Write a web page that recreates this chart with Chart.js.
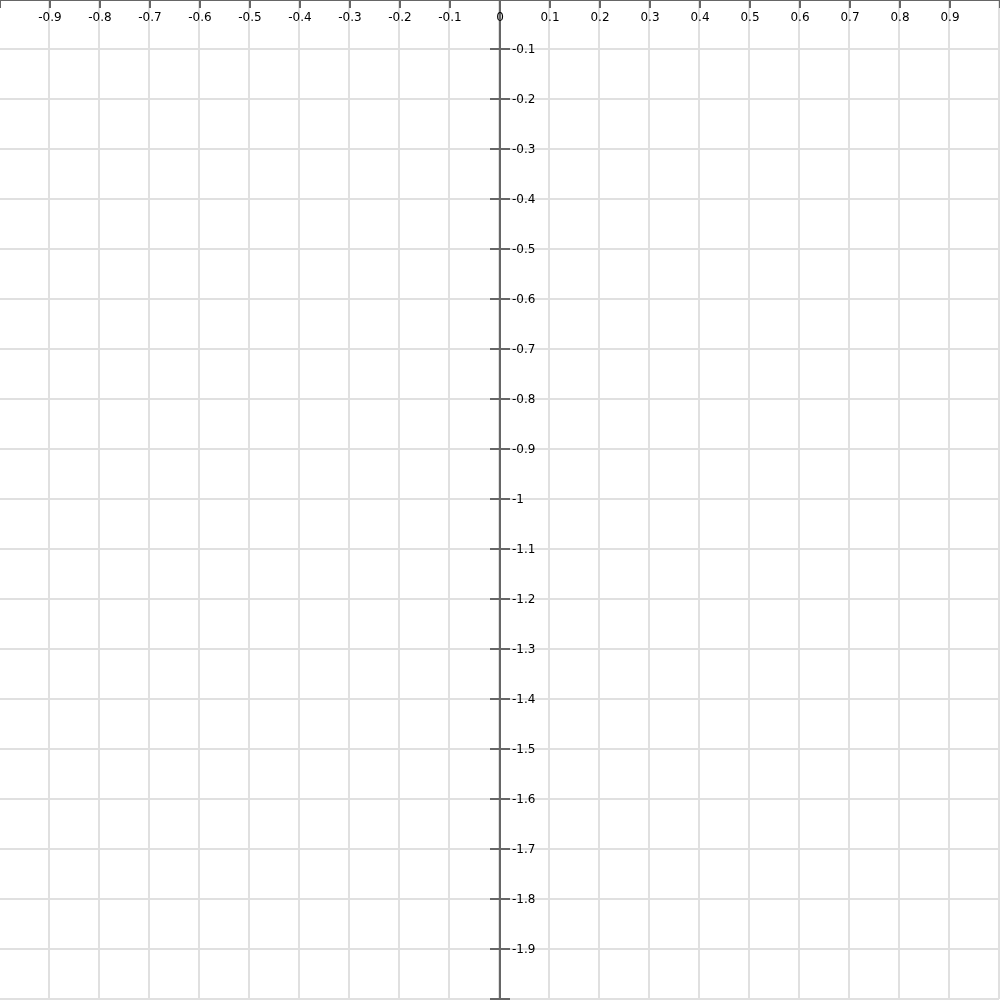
<!DOCTYPE html>
<html>
<head>
<meta charset="utf-8">
<script src="https://cdn.jsdelivr.net/npm/chart.js@4.4.1/dist/chart.umd.min.js"></script>
<style>
html,body{margin:0;padding:0;background:#fff;overflow:hidden;width:1000px;height:1000px;}
canvas{display:block;margin-left:-1px;margin-top:-1px;}
</style>
</head>
<body>
<canvas id="c" width="1001" height="1001"></canvas>
<script>
const xRange = [-1, 1];
const yRange = [-2, 0];
const xTickValues = [-1, -0.9, -0.8, -0.7, -0.6, -0.5, -0.4, -0.3, -0.2, -0.1, 0, 0.1, 0.2, 0.3, 0.4, 0.5, 0.6, 0.7, 0.8, 0.9, 1];
const xTickLabels = ["", "-0.9", "-0.8", "-0.7", "-0.6", "-0.5", "-0.4", "-0.3", "-0.2", "-0.1", "0", "0.1", "0.2", "0.3", "0.4", "0.5", "0.6", "0.7", "0.8", "0.9", ""];
const yTickValues = [0, -0.1, -0.2, -0.3, -0.4, -0.5, -0.6, -0.7, -0.8, -0.9, -1, -1.1, -1.2, -1.3, -1.4, -1.5, -1.6, -1.7, -1.8, -1.9, -2];
const yTickLabels = ["", "-0.1", "-0.2", "-0.3", "-0.4", "-0.5", "-0.6", "-0.7", "-0.8", "-0.9", "-1", "-1.1", "-1.2", "-1.3", "-1.4", "-1.5", "-1.6", "-1.7", "-1.8", "-1.9", ""];
const points = [];

const axisPlugin = {
  id: 'centerAxes',
  afterDraw(chart) {
    const ctx = chart.ctx;
    const xs = chart.scales.x, ys = chart.scales.y;
    const W = chart.width, H = chart.height;
    const x0 = Math.round(xs.getPixelForValue(0)) + 1;
    const y0 = Math.round(ys.getPixelForValue(0)) + 1;
    ctx.save();
    ctx.strokeStyle = '#666666';
    ctx.lineWidth = 2;
    ctx.beginPath();
    ctx.moveTo(0, y0);
    ctx.lineTo(W, y0);
    ctx.stroke();
    ctx.beginPath();
    ctx.moveTo(x0, 0);
    ctx.lineTo(x0, H);
    ctx.stroke();
    ctx.font = '12px "DejaVu Sans"';
    ctx.fillStyle = '#000';
    ctx.textAlign = 'center';
    ctx.textBaseline = 'middle';
    xTickValues.forEach((v, i) => {
      const px = Math.round(xs.getPixelForValue(v)) + 1;
      ctx.beginPath();
      ctx.moveTo(px, y0);
      ctx.lineTo(px, y0 + 8);
      ctx.stroke();
      if (xTickLabels[i]) ctx.fillText(xTickLabels[i], px, y0 + 18);
    });
    ctx.textAlign = 'left';
    yTickValues.forEach((v, i) => {
      const py = Math.round(ys.getPixelForValue(v));
      ctx.beginPath();
      ctx.moveTo(x0 - 10, py);
      ctx.lineTo(x0 + 10, py);
      ctx.stroke();
      if (yTickLabels[i]) ctx.fillText(yTickLabels[i], x0 + 12, py + 1);
    });
    ctx.restore();
  }
};

new Chart(document.getElementById('c'), {
  type: 'scatter',
  data: { datasets: [{ data: points, showLine: false }] },
  options: {
    responsive: false,
    animation: false,
    events: [],
    layout: { padding: { left: 0, top: 0, right: 1, bottom: 1 } },
    plugins: { legend: { display: false }, tooltip: { enabled: false } },
    scales: {
      x: {
        type: 'linear', min: xRange[0], max: xRange[1],
        position: { y: 0 },
        afterBuildTicks: (s) => { s.ticks = xTickValues.map(v => ({ value: v })); },
        ticks: { display: false },
        border: { display: false },
        grid: { color: '#e0e0e0', lineWidth: 2, drawTicks: false }
      },
      y: {
        type: 'linear', min: yRange[0], max: yRange[1],
        position: { x: 0 },
        afterBuildTicks: (s) => { s.ticks = yTickValues.map(v => ({ value: v })); },
        ticks: { display: false },
        border: { display: false },
        grid: { color: '#e0e0e0', lineWidth: 2, drawTicks: false }
      }
    }
  },
  plugins: [axisPlugin]
});
</script>
</body>
</html>
